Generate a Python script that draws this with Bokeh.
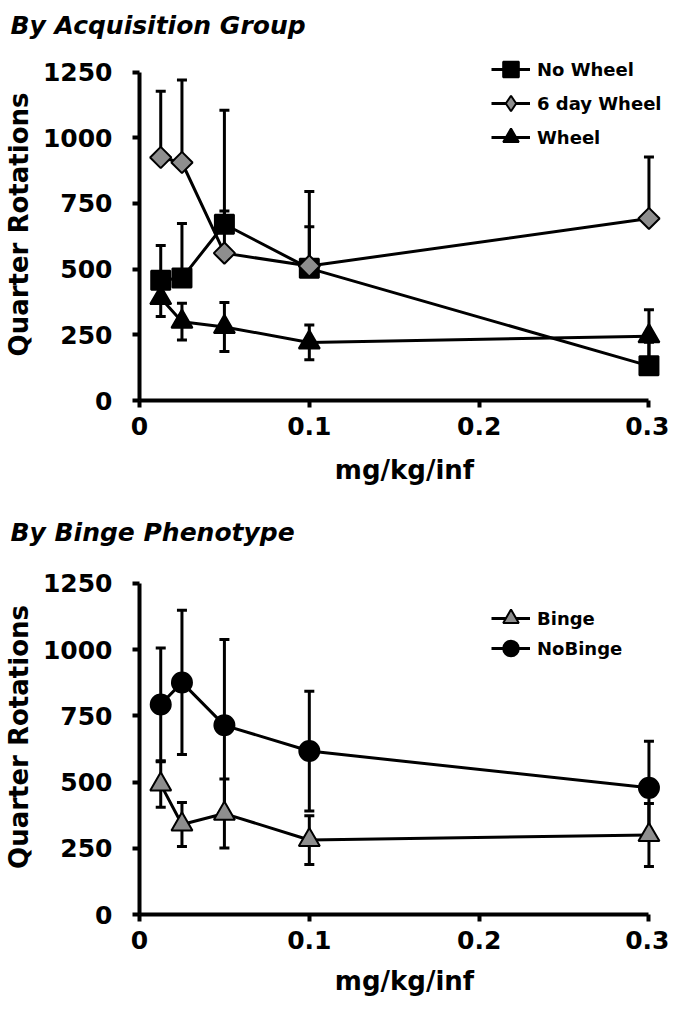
import math
from bokeh.plotting import figure
from bokeh.models import (ColumnDataSource, Whisker, TeeHead, FixedTicker, Legend,
                          LegendItem, Range1d)
from bokeh.layouts import column
from bokeh.embed import file_html
from bokeh.resources import INLINE

# ---------------- data ----------------
doses = [0.0125, 0.025, 0.05, 0.1, 0.3]

no_wheel = [458, 466, 671, 503, 132]
no_wheel_err = [132, 208, 50, 158, 90]
six_day_wheel = [925, 906, 561, 512, 693]
six_day_wheel_err = [252, 314, 544, 284, 234]
wheel = [390, 300, 280, 221, 245]
wheel_err = [70, 70, 93, 66, 100]

binge = [491, 340, 381, 281, 300]
binge_err = [86, 83, 130, 92, 119]
no_binge = [793, 876, 714, 617, 478]
no_binge_err = [213, 272, 324, 226, 176]

x_ticks = [0, 0.1, 0.2, 0.3]
x_tick_labels = ["0", "0.1", "0.2", "0.3"]
y_ticks = [0, 250, 500, 750, 1000, 1250]

FONT = "DejaVu Sans"
GRAY = "#8e8e8e"


def make_panel(title, series, height, border_top, border_bottom, title_standoff,
               y_end, legend_ys, xlabel_standoff):
    p = figure(width=669, height=height, output_backend="svg", toolbar_location=None,
               title=title,
               x_range=Range1d(0, 0.3121), y_range=Range1d(0, y_end),
               min_border_left=129, min_border_right=0,
               min_border_top=border_top, min_border_bottom=border_bottom)
    p.outline_line_color = None
    p.grid.visible = False

    p.title.align = "left"
    p.title.offset = -129
    p.title.text_font = FONT
    p.title.text_font_style = "bold italic"
    p.title.text_font_size = "25px"
    p.title.text_color = "black"
    try:
        p.title.standoff = title_standoff
    except AttributeError:
        pass

    xa = p.xaxis[0]
    xa.ticker = FixedTicker(ticks=x_ticks)
    xa.major_label_overrides = dict(zip(x_ticks, x_tick_labels))
    xa.bounds = (0, 0.3)
    xa.axis_label = "mg/kg/inf"
    xa.major_label_standoff = 9
    xa.axis_label_standoff = xlabel_standoff

    ya = p.yaxis[0]
    ya.ticker = FixedTicker(ticks=y_ticks)
    ya.bounds = (0, 1250)
    ya.axis_label = "Quarter Rotations"
    ya.major_label_standoff = 20
    ya.axis_label_standoff = 6

    for ax in (xa, ya):
        ax.axis_line_width = 4
        ax.axis_line_color = "black"
        ax.major_tick_line_width = 4
        ax.major_tick_line_color = "black"
        ax.major_tick_out = 7
        ax.major_tick_in = 0
        ax.minor_tick_line_color = None
        ax.major_label_text_font = FONT
        ax.major_label_text_font_style = "bold"
        ax.major_label_text_font_size = "25px"
        ax.major_label_text_color = "black"
        ax.axis_label_text_font = FONT
        ax.axis_label_text_font_style = "bold"
        ax.axis_label_text_font_size = "26px"
        ax.axis_label_text_color = "black"

    for (name, mean, err, marker, size, angle, fill, both, legend_marker), ly in zip(series, legend_ys):
        src = ColumnDataSource(dict(
            x=doses, y=mean,
            lower=[m - e for m, e in zip(mean, err)] if both else list(mean),
            upper=[m + e for m, e in zip(mean, err)]))
        w = Whisker(source=src, base="x", upper="upper", lower="lower",
                    line_width=3, line_color="black",
                    upper_head=TeeHead(size=10, line_width=3, line_color="black"),
                    lower_head=TeeHead(size=10, line_width=3, line_color="black") if both else None)
        p.add_layout(w)
        r_line = p.line("x", "y", source=src, line_width=3, line_color="black")
        r_pt = p.scatter("x", "y", source=src, marker=marker, size=size, angle=angle,
                         fill_color=fill, line_color="black", line_width=2)
        if legend_marker is None:
            item = LegendItem(label=name, renderers=[r_line, r_pt])
        else:
            # legend-only proxy (a NaN point, never drawn in the plot) so the legend
            # shows the diamond shape
            proxy_src = ColumnDataSource(dict(x=[float("nan")], y=[float("nan")]))
            proxy = p.scatter("x", "y", source=proxy_src, marker=legend_marker, size=size,
                              fill_color=fill, line_color="black", line_width=2)
            item = LegendItem(label=name, renderers=[r_line, proxy])

        leg = Legend(items=[item], location=(352, ly), glyph_width=39, glyph_height=40,
                     label_height=40, spacing=0, padding=0, margin=0,
                     border_line_color=None, background_fill_alpha=0,
                     label_text_font=FONT, label_text_font_style="bold",
                     label_text_font_size="18px", label_text_color="black", label_standoff=7)
        p.add_layout(leg)
    return p


top_series = [
    ("No Wheel", no_wheel, no_wheel_err, "square", 19, 0, "black", False, None),
    ("6 day Wheel", six_day_wheel, six_day_wheel_err, "square", 15, math.pi / 4, GRAY, False, "diamond"),
    ("Wheel", wheel, wheel_err, "triangle", 21, 0, "black", True, None),
]
bottom_series = [
    ("Binge", binge, binge_err, "triangle", 21, 0, GRAY, True, None),
    ("NoBinge", no_binge, no_binge_err, "circle", 20, 0, "black", True, None),
]

p1 = make_panel("By Acquisition Group", top_series, 500, 42, 100, 17, 1340,
                [311, 277, 243], 17)
p2 = make_panel("By Binge Phenotype", bottom_series, 498, 59, 83, 25, 1340,
                [276, 246], 14)

layout = column(p1, p2)
open("out.html", "w").write(file_html(layout, INLINE))
